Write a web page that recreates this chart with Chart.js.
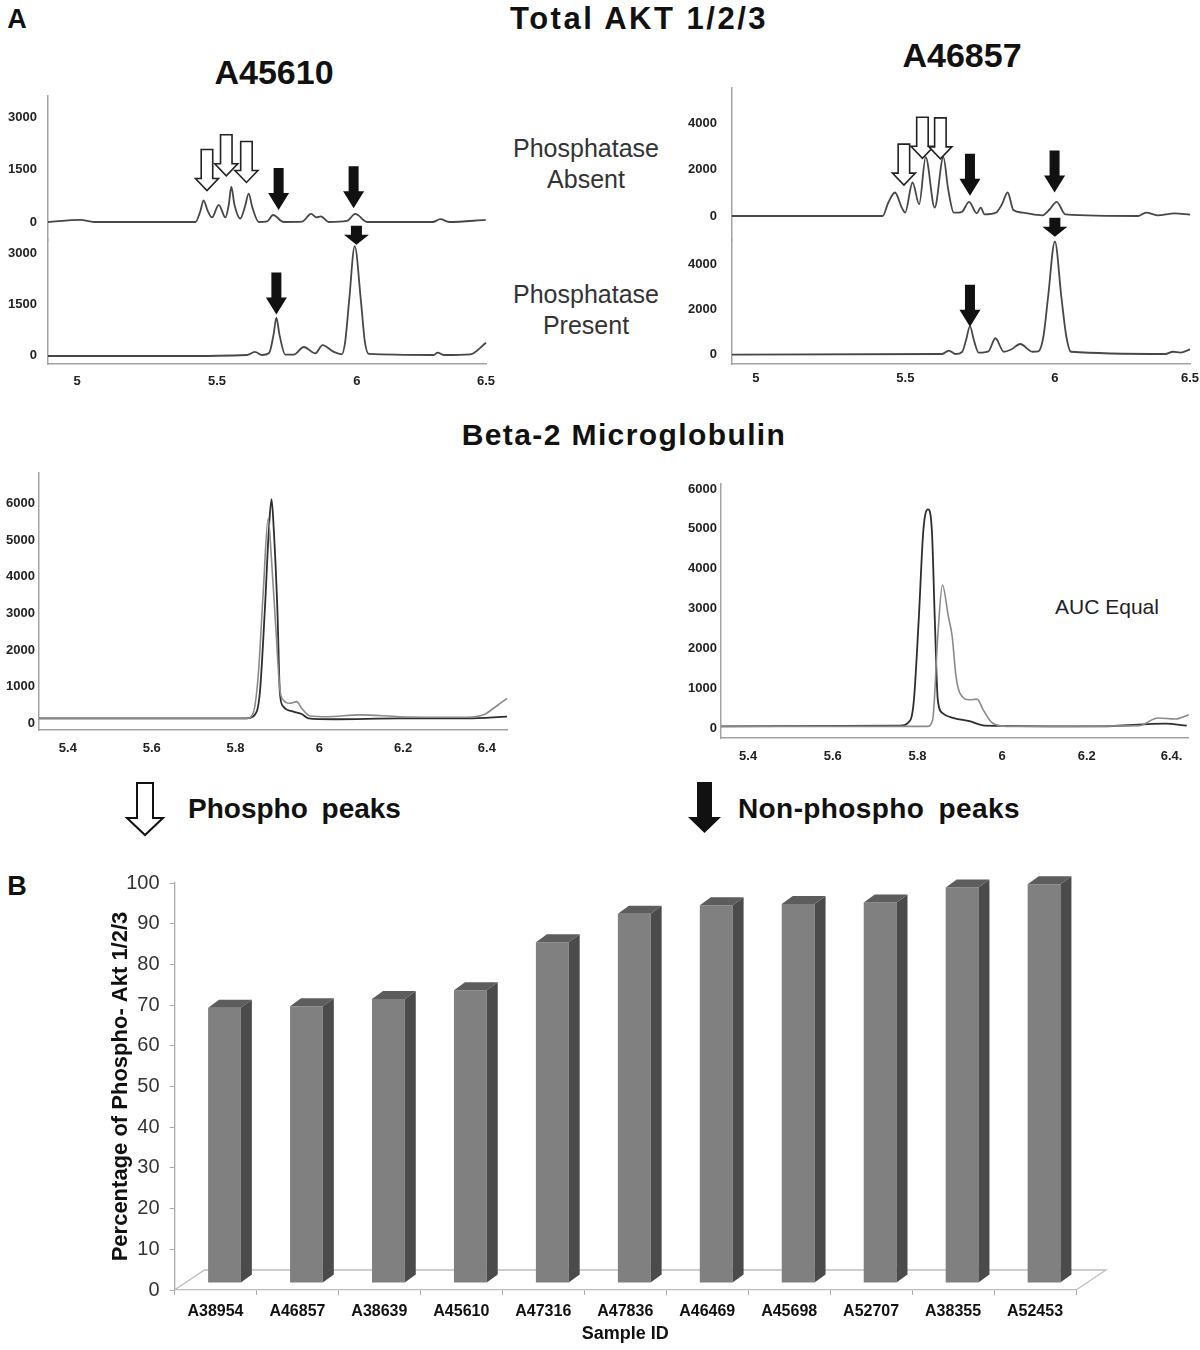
<!DOCTYPE html>
<html>
<head>
<meta charset="utf-8">
<script src="https://cdn.jsdelivr.net/npm/chart.js@4.4.1/dist/chart.umd.min.js"></script>
<style>
body { margin: 0; background: #fff; }
#page { position: relative; width: 1200px; height: 1350px; overflow: hidden; font-family: "Liberation Sans", Arial, sans-serif; color: #111; background: #fff; }
#page canvas { position: absolute; }
.t { position: absolute; transform: translate(-50%, -50%); white-space: nowrap; }
.b { font-weight: bold; }
.cond { font-size: 25px; color: #333; text-align: center; line-height: 31px; }
.leg { position: absolute; transform: translateY(-50%); white-space: nowrap; font-weight: bold; font-size: 28px; word-spacing: 6px; }
svg { position: absolute; left: 0; top: 0; }
</style>
</head>
<body>
<div id="page">
  <div class="t b" style="left:17px;top:19px;font-size:27px">A</div>
  <div class="t b" style="left:639px;top:19px;font-size:31px;letter-spacing:2.5px">Total AKT 1/2/3</div>
  <div class="t b" style="left:274px;top:72px;font-size:34px">A45610</div>
  <div class="t b" style="left:962px;top:55px;font-size:34px">A46857</div>
  <div class="t cond" style="left:586px;top:164px">Phosphatase<br>Absent</div>
  <div class="t cond" style="left:586px;top:310px">Phosphatase<br>Present</div>
  <div class="t b" style="left:624px;top:435px;font-size:30px;letter-spacing:1.4px">Beta-2 Microglobulin</div>
  <div class="t" style="left:1107px;top:607px;font-size:21px;color:#222">AUC Equal</div>
  <div class="leg" style="left:188px;top:809px">Phospho peaks</div>
  <div class="leg" style="left:738px;top:809px;letter-spacing:0.4px">Non-phospho peaks</div>
  <div class="t b" style="left:17px;top:886px;font-size:27px">B</div>

  <svg width="1200" height="1350">
    <polygon points="137,783 153,783 153,818 163,818 145,835 127,818 137,818" fill="#fff" stroke="#111" stroke-width="2"/>
    <polygon points="697,782 712,782 712,817 721,817 704.5,833 688,817 697,817" fill="#111"/>
  </svg>

  <canvas id="aktLeftAbsent" width="500" height="164" style="left:0;top:86px"></canvas>
  <canvas id="aktLeftPresent" width="500" height="204" style="left:0;top:196px"></canvas>
  <canvas id="aktRightAbsent" width="516" height="172" style="left:684px;top:78px"></canvas>
  <canvas id="aktRightPresent" width="516" height="204" style="left:684px;top:196px"></canvas>
  <canvas id="b2mLeft" width="520" height="297" style="left:0;top:463px"></canvas>
  <canvas id="b2mRight" width="520" height="300" style="left:680px;top:474px"></canvas>
  <canvas id="pctBars" width="1200" height="500" style="left:0;top:850px"></canvas>
</div>

<script>
Chart.defaults.font.family = '"Liberation Sans", Arial, sans-serif';
Chart.defaults.animation = false;

// chromatogram traces: [retention time, intensity]
var a45610Absent = [[4.896, 0], [5.012, 60], [5.06, 0], [5.423, 0], [5.44, 300], [5.452, 620], [5.466, 330],
  [5.482, 130], [5.506, 490], [5.53, 130], [5.542, 500], [5.551, 1010], [5.562, 500], [5.583, 100],
  [5.6, 450], [5.613, 810], [5.626, 420], [5.649, 0], [5.679, 20], [5.7, 200], [5.738, 0], [5.804, 10],
  [5.836, 230], [5.855, 130], [5.871, 160], [5.899, 0], [5.964, 30], [5.994, 230], [6.036, 0],
  [6.27, 0], [6.298, 80], [6.33, 0], [6.46, 60]];
var a45610Present = [[4.896, -30], [5.357, -30], [5.607, 0], [5.635, 90], [5.661, 0], [5.686, 60],
  [5.702, 600], [5.712, 1100], [5.723, 600], [5.744, 10], [5.774, 10], [5.81, 235], [5.851, 50],
  [5.877, 290], [5.917, 90], [5.946, 20], [5.958, 400], [5.972, 1600], [5.992, 3200], [6.014, 1600],
  [6.028, 400], [6.042, 30], [6.274, 0], [6.288, 70], [6.31, 0], [6.405, 20], [6.461, 360]];
var a46857Absent = [[4.92, 0], [5.424, 0], [5.443, 580], [5.465, 1010], [5.488, 360], [5.499, 145],
  [5.524, 1440], [5.546, 505], [5.568, 2530], [5.598, 360], [5.627, 2530], [5.643, 1155], [5.662, 145],
  [5.688, 170], [5.713, 605], [5.739, 115], [5.752, 360], [5.765, 70], [5.803, 145], [5.823, 505],
  [5.842, 1010], [5.861, 260], [5.893, 145], [5.958, 30], [5.983, 290], [6.006, 605], [6.035, 70],
  [6.279, 0], [6.305, 145], [6.343, 30], [6.401, 115], [6.452, 60]];
var a46857Present = [[4.92, -30], [5.623, 0], [5.645, 150], [5.668, 0], [5.69, 100], [5.703, 620],
  [5.716, 1240], [5.729, 620], [5.745, 60], [5.778, 120], [5.801, 700], [5.829, 100], [5.855, 210],
  [5.884, 445], [5.925, 100], [5.945, 120], [5.962, 800], [5.977, 2500], [6.0, 5000], [6.022, 2500],
  [6.038, 800], [6.054, 100], [6.369, 0], [6.395, 100], [6.42, 60], [6.452, 210]];

var b2mLeftDark = [[5.331, 135], [5.826, 135], [5.846, 230], [5.858, 820], [5.87, 3090], [5.88, 5360],
  [5.886, 6110], [5.891, 5360], [5.9, 3090], [5.906, 820], [5.914, 455], [5.938, 320], [5.958, 255],
  [5.974, 135], [6.033, 110], [6.193, 135], [6.352, 135], [6.448, 180]];
var b2mLeftGray = [[5.331, 130], [5.826, 130], [5.842, 270], [5.854, 1270], [5.866, 3545], [5.878, 5590],
  [5.886, 4450], [5.896, 2640], [5.906, 910], [5.914, 640], [5.93, 545], [5.946, 590], [5.958, 410],
  [5.978, 200], [6.018, 180], [6.097, 230], [6.193, 180], [6.352, 165], [6.392, 230], [6.416, 410],
  [6.448, 680]];
var b2mRightDark = [[5.336, 40], [5.759, 60], [5.777, 125], [5.791, 630], [5.803, 2720], [5.814, 4970],
  [5.825, 5490], [5.834, 4970], [5.841, 2720], [5.848, 710], [5.859, 375], [5.886, 250], [5.923, 170],
  [5.959, 60], [6.232, 40], [6.386, 110], [6.436, 60]];
var b2mRightGray = [[5.336, 40], [5.823, 40], [5.836, 210], [5.848, 2300], [5.859, 3590], [5.873, 2800],
  [5.882, 2300], [5.891, 1300], [5.9, 880], [5.923, 710], [5.941, 725], [5.955, 460], [5.977, 125],
  [6.014, 40], [6.323, 60], [6.368, 250], [6.409, 225], [6.441, 330]];

// peak markers: [retention time, intensity, kind]
var a45610AbsentMarks = [[5.464, 900, 'open'], [5.533, 1320, 'open'], [5.605, 1130, 'open'],
  [5.72, 343, 'solid'], [5.988, 392, 'solid']];
var a45610PresentMarks = [[5.712, 1190, 'solid'], [5.998, 3245, 'stub']];
var a46857AbsentMarks = [[5.495, 1330, 'open'], [5.557, 2485, 'open'], [5.617, 2455, 'open'],
  [5.716, 866, 'solid'], [5.999, 1010, 'solid']];
var a46857PresentMarks = [[5.716, 1215, 'solid'], [6.0, 5215, 'stub']];

// tick labels
var aktXLabels = ['5', '5.5', '6', '6.5'];
var a45610YTicks = [0, 1500, 3000];
var a46857YTicks = [0, 2000, 4000];
var b2mXTicks = [5.4, 5.6, 5.8, 6, 6.2, 6.4];
var b2mLeftXLabels = ['5.4', '5.6', '5.8', '6', '6.2', '6.4'];
var b2mRightXLabels = ['5.4', '5.6', '5.8', '6', '6.2', '6.4.'];
var b2mYTicks = [0, 1000, 2000, 3000, 4000, 5000, 6000];

// panel B
var sampleIds = ['A38954', 'A46857', 'A38639', 'A45610', 'A47316', 'A47836', 'A46469', 'A45698', 'A52707', 'A38355', 'A52453'];
var phosphoPct = [67.6, 68, 69.8, 71.9, 83.7, 90.7, 92.8, 93.1, 93.5, 97.2, 98];

var ARROWS = {
  open: { h: 41, head: 12, sw: 11.5, hw: 23 },
  solid: { h: 42, head: 17, sw: 10, hw: 21 },
  stub: { h: 19, head: 10, sw: 11, hw: 25 }
};

var peakArrows = {
  id: 'peakArrows',
  afterDatasetsDraw: function(chart, args, opts) {
    var ctx = chart.ctx, xs = chart.scales.x, ys = chart.scales.y;
    (opts.list || []).forEach(function(m) {
      var a = ARROWS[m[2]];
      var px = xs.getPixelForValue(m[0]), py = ys.getPixelForValue(m[1]);
      ctx.save();
      ctx.beginPath();
      ctx.moveTo(px - a.sw / 2, py - a.h);
      ctx.lineTo(px + a.sw / 2, py - a.h);
      ctx.lineTo(px + a.sw / 2, py - a.head);
      ctx.lineTo(px + a.hw / 2, py - a.head);
      ctx.lineTo(px, py);
      ctx.lineTo(px - a.hw / 2, py - a.head);
      ctx.lineTo(px - a.sw / 2, py - a.head);
      ctx.closePath();
      if (m[2] == 'open') {
        ctx.fillStyle = '#fff';
        ctx.fill();
        ctx.lineWidth = 1.6;
        ctx.strokeStyle = '#222';
        ctx.stroke();
      } else {
        ctx.fillStyle = '#111';
        ctx.fill();
      }
      ctx.restore();
    });
  }
};

function noPad(s) {
  s.paddingLeft = 0; s.paddingRight = 0; s.paddingTop = 0; s.paddingBottom = 0;
}

function trace(id, lines, o) {
  return new Chart(document.getElementById(id), {
    type: 'line',
    data: {
      datasets: lines.map(function(l) {
        return {
          data: l.pts.map(function(p) { return { x: p[0], y: p[1] }; }),
          borderColor: l.color,
          borderWidth: l.w || 1.8,
          pointRadius: 0,
          cubicInterpolationMode: 'monotone',
          clip: false
        };
      })
    },
    options: {
      responsive: false,
      events: [],
      layout: { padding: o.pad },
      plugins: { legend: { display: false }, tooltip: { enabled: false }, peakArrows: { list: o.marks || [] } },
      scales: {
        x: {
          type: 'linear', min: o.x[0], max: o.x[1], display: !!o.xLabels,
          afterBuildTicks: function(s) { s.ticks = o.xVals.map(function(v) { return { value: v }; }); },
          afterFit: function(s) { noPad(s); s.height = o.xh || 0; },
          grid: { drawOnChartArea: false, drawTicks: false },
          border: { color: '#a3a3a3', width: 1.5 },
          ticks: {
            color: '#222', font: { size: 13, weight: 'bold' }, padding: o.xp || 0, maxRotation: 0, autoSkip: false,
            callback: function(v, i) { return o.xLabels ? o.xLabels[i] : ''; }
          }
        },
        y: {
          min: o.y[0], max: o.y[1],
          afterBuildTicks: function(s) { s.ticks = o.yTicks.map(function(v) { return { value: v }; }); },
          afterFit: function(s) { noPad(s); s.width = o.yw; },
          grid: { drawOnChartArea: false, drawTicks: false },
          border: { color: '#a3a3a3', width: 1.5 },
          ticks: {
            color: '#222', font: { size: 13, weight: 'bold' }, padding: o.yp, autoSkip: false,
            callback: function(v) { return String(v); }
          }
        }
      }
    },
    plugins: [peakArrows]
  });
}

var aktColor = '#474747';

trace('aktLeftAbsent', [{ pts: a45610Absent, color: aktColor }], {
  pad: { left: 0, top: 10, right: 14, bottom: 10 }, x: [4.896, 6.461], y: [-514, 3600],
  xVals: [5, 5.5, 6, 6.461], yTicks: a45610YTicks, yw: 48, yp: 11, marks: a45610AbsentMarks
});
trace('aktLeftPresent', [{ pts: a45610Present, color: aktColor }], {
  pad: { left: 0, top: 44, right: 14, bottom: 0 }, x: [4.896, 6.461], y: [-265, 3382],
  xVals: [5, 5.5, 6, 6.461], xLabels: aktXLabels, xh: 36, xp: 10,
  yTicks: a45610YTicks, yw: 48, yp: 11, marks: a45610PresentMarks
});
trace('aktRightAbsent', [{ pts: a46857Absent, color: aktColor }], {
  pad: { left: 0, top: 10, right: 10, bottom: 10 }, x: [4.92, 6.452], y: [-1032, 5505],
  xVals: [5, 5.5, 6, 6.452], yTicks: a46857YTicks, yw: 48, yp: 15, marks: a46857AbsentMarks
});
trace('aktRightPresent', [{ pts: a46857Present, color: aktColor }], {
  pad: { left: 0, top: 44, right: 10, bottom: 0 }, x: [4.92, 6.452], y: [-444, 5067],
  xVals: [5, 5.5, 6, 6.452], xLabels: aktXLabels, xh: 36, xp: 7,
  yTicks: a46857YTicks, yw: 48, yp: 15, marks: a46857PresentMarks
});
trace('b2mLeft', [{ pts: b2mLeftGray, color: '#8a8a8a', w: 1.6 }, { pts: b2mLeftDark, color: '#2e2e2e', w: 1.8 }], {
  pad: { left: 0, top: 10, right: 13, bottom: 0 }, x: [5.331, 6.448], y: [-183, 6826],
  xVals: b2mXTicks, xLabels: b2mLeftXLabels, xh: 30, xp: 11,
  yTicks: b2mYTicks, yw: 39, yp: 4
});
trace('b2mRight', [{ pts: b2mRightGray, color: '#8a8a8a', w: 1.6 }, { pts: b2mRightDark, color: '#2e2e2e', w: 1.8 }], {
  pad: { left: 0, top: 10, right: 12, bottom: 0 }, x: [5.336, 6.439], y: [-251, 6126],
  xVals: b2mXTicks, xLabels: b2mRightXLabels, xh: 36, xp: 11,
  yTicks: b2mYTicks, yw: 41, yp: 4
});

// 3d look for panel B: floor, bars moved back half a depth, side and top faces
var bar3d = {
  id: 'bar3d',
  beforeDatasetsDraw: function(chart) {
    var ctx = chart.ctx, a = chart.chartArea;
    var y0 = chart.scales.y.getPixelForValue(0);
    ctx.save();
    ctx.strokeStyle = '#bdbdbd';
    ctx.lineWidth = 1.3;
    ctx.beginPath();
    ctx.moveTo(a.left, y0);
    ctx.lineTo(a.left + 30, y0 - 20);
    ctx.lineTo(a.right + 30, y0 - 20);
    ctx.lineTo(a.right, y0);
    ctx.stroke();
    ctx.restore();
    ctx.save();
    ctx.translate(9, -7);
  },
  afterDatasetsDraw: function(chart) {
    var ctx = chart.ctx;
    chart.getDatasetMeta(0).data.forEach(function(bar) {
      var p = bar.getProps(['x', 'y', 'base', 'width'], true);
      var l = p.x - p.width / 2, r = p.x + p.width / 2;
      ctx.fillStyle = '#5d5d5d';
      ctx.beginPath();
      ctx.moveTo(l, p.y); ctx.lineTo(l + 11, p.y - 8); ctx.lineTo(r + 11, p.y - 8); ctx.lineTo(r, p.y);
      ctx.closePath(); ctx.fill();
      ctx.fillStyle = '#4b4b4b';
      ctx.beginPath();
      ctx.moveTo(r, p.y); ctx.lineTo(r + 11, p.y - 8); ctx.lineTo(r + 11, p.base - 8); ctx.lineTo(r, p.base);
      ctx.closePath(); ctx.fill();
    });
    ctx.restore();
  }
};

new Chart(document.getElementById('pctBars'), {
  type: 'bar',
  data: {
    labels: sampleIds,
    datasets: [{
      data: phosphoPct,
      backgroundColor: '#808080',
      borderWidth: 0,
      categoryPercentage: 1,
      barPercentage: 0.4,
      clip: false
    }]
  },
  options: {
    responsive: false,
    events: [],
    layout: { padding: { left: 104, right: 124, top: 33, bottom: 0 } },
    plugins: { legend: { display: false }, tooltip: { enabled: false } },
    scales: {
      x: {
        afterFit: function(s) { noPad(s); s.height = 60; },
        grid: { drawOnChartArea: false, drawTicks: true, tickLength: 5, color: '#aaa', offset: true },
        border: { color: '#bdbdbd', width: 1.3 },
        ticks: { color: '#111', font: { size: 16, weight: 'bold' }, padding: 7, maxRotation: 0, autoSkip: false },
        title: { display: true, text: 'Sample ID', color: '#111', font: { size: 18, weight: 'bold' }, padding: { top: 0, bottom: 5 } }
      },
      y: {
        min: 0, max: 100,
        afterFit: function(s) { noPad(s); s.width = 70.5; },
        grid: { drawOnChartArea: false, drawTicks: true, tickLength: 5, color: '#aaa' },
        border: { color: '#aaa', width: 1.3 },
        ticks: { stepSize: 10, color: '#333', font: { size: 20 }, padding: 10 },
        title: { display: true, text: 'Percentage of Phospho- Akt 1/2/3', color: '#111', font: { size: 22, weight: 'bold' }, padding: { top: 4, bottom: 0 } }
      }
    }
  },
  plugins: [bar3d]
});
</script>
</body>
</html>
